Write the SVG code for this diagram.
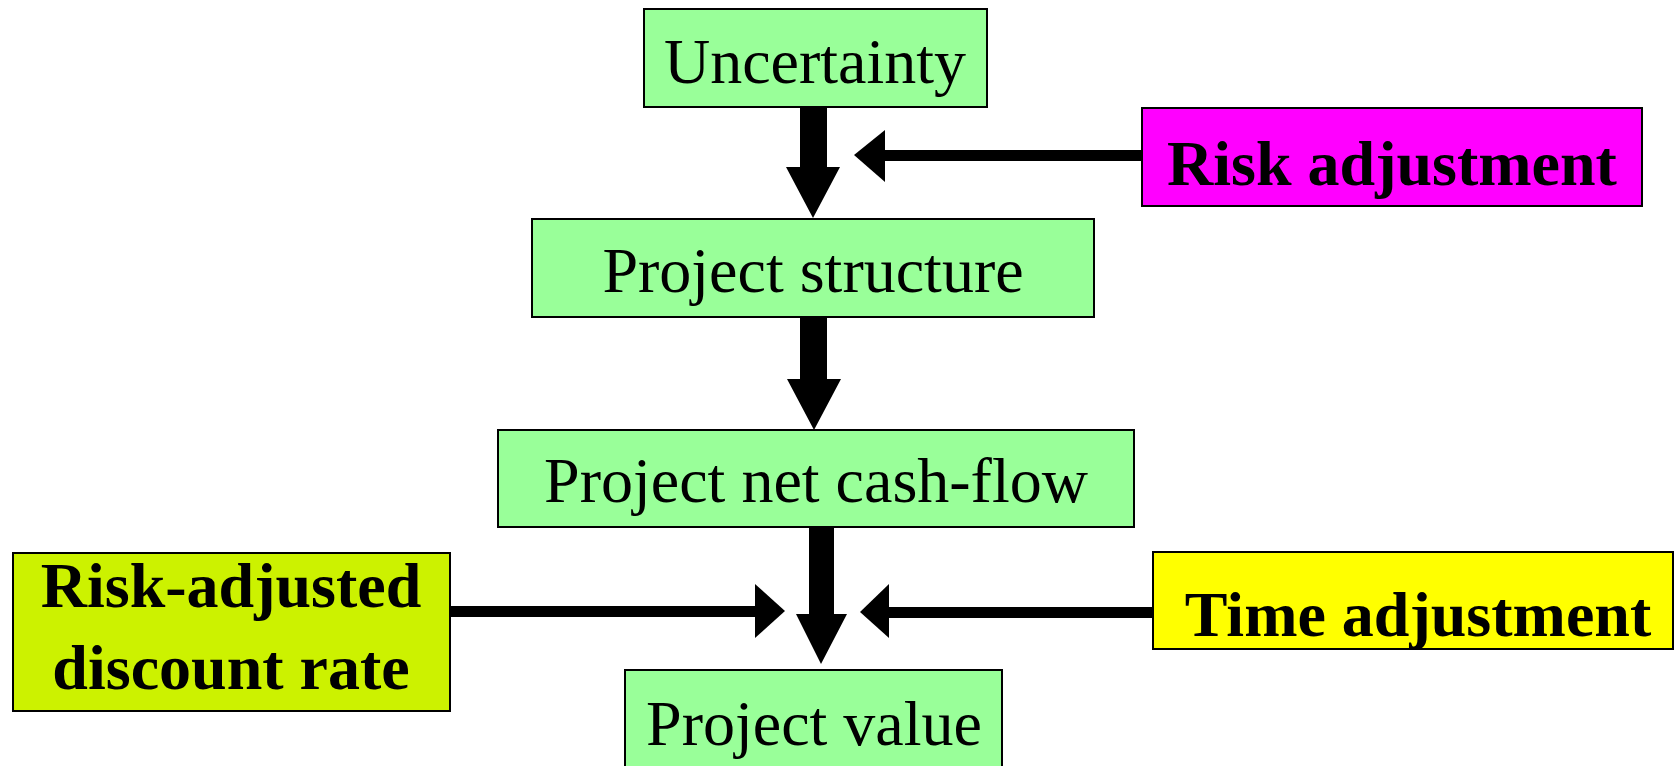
<svg xmlns="http://www.w3.org/2000/svg" width="1675" height="766" viewBox="0 0 1675 766">
<style>
.box{stroke:#000;stroke-width:2}
.g{fill:#99FF99}
.t{font-family:"Liberation Serif","Times New Roman",serif;font-size:64px;fill:#000;text-anchor:middle}
.b{font-weight:bold}
.arr{fill:#000}
</style>
<rect width="1675" height="766" fill="#fff"/>
<g id="connectors">
<polygon class="arr" points="800,107 827,107 827,167 840,167 813,218 786,167 800,167"/>
<polygon class="arr" points="800,317 827,317 827,379 841,379 814,430 787,379 800,379"/>
<polygon class="arr" points="809,527 834,527 834,614 847,614 821,664 796,614 809,614"/>
<rect class="arr" x="885" y="150" width="257" height="11"/>
<polygon class="arr" points="854,155 885,130 885,182"/>
<rect class="arr" x="450" y="606" width="305" height="11"/>
<polygon class="arr" points="785,611 755,584 755,638"/>
<rect class="arr" x="889" y="607" width="264" height="11"/>
<polygon class="arr" points="860,612 889,584 889,638"/>
</g>
<g id="uncertainty">
<rect class="box g" x="644" y="9" width="343" height="98"/>
<text class="t" x="815" y="83">Uncertainty</text>
</g>
<g id="risk-adjustment">
<rect class="box" fill="#FF00FF" x="1142" y="108" width="500" height="98"/>
<text class="t b" x="1392" y="185">Risk adjustment</text>
</g>
<g id="project-structure">
<rect class="box g" x="532" y="219" width="562" height="98"/>
<text class="t" x="813" y="292">Project structure</text>
</g>
<g id="project-net-cash-flow">
<rect class="box g" x="498" y="430" width="636" height="97"/>
<text class="t" x="816" y="502">Project net cash-flow</text>
</g>
<g id="risk-adjusted-discount-rate">
<rect class="box" fill="#CCF200" x="13" y="553" width="437" height="158"/>
<text class="t b" x="231" y="607">Risk-adjusted</text>
<text class="t b" x="231" y="689">discount rate</text>
</g>
<g id="time-adjustment">
<rect class="box" fill="#FFFF00" x="1153" y="552" width="520" height="97"/>
<text class="t b" x="1418" y="636">Time adjustment</text>
</g>
<g id="project-value">
<rect class="box g" x="625" y="670" width="377" height="100"/>
<text class="t" x="814" y="745">Project value</text>
</g>
</svg>
